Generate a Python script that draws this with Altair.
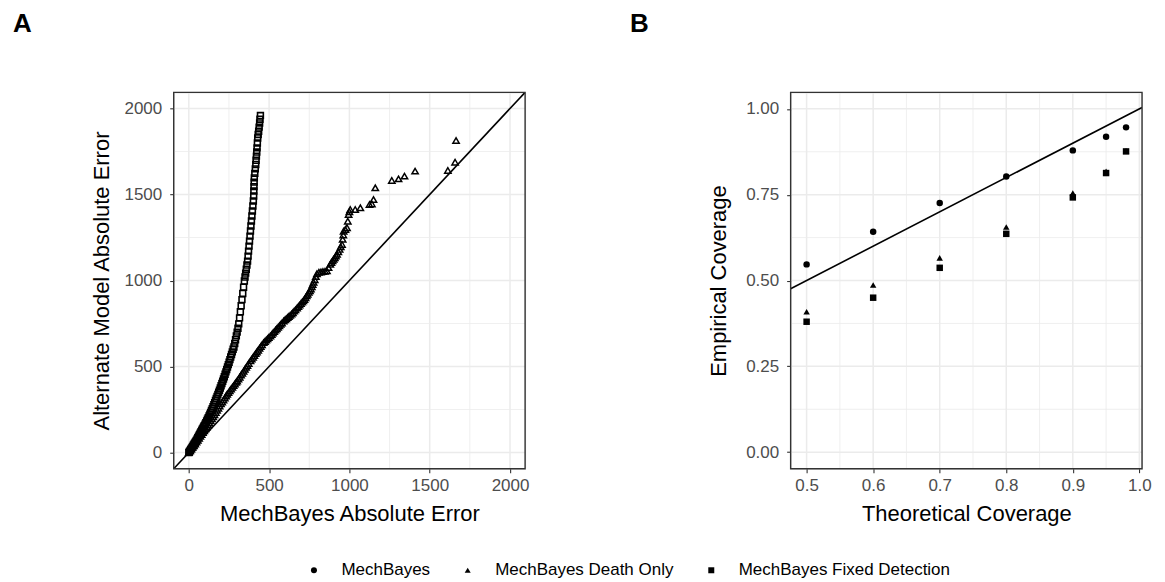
import altair as alt
import pandas as pd

FONT = "Liberation Sans"

# ---------------- Panel A: MechBayes vs alternate model absolute error (quantile pairs)
fixed_x = [0,4,8,12,16,20,24,28,32,36,40,44,48,52,56,60,64,68,72,76,80,84,88,92,96,
           101,106,111,116,121,126,131,136,141,146,151,156,161,166,171,176,181,186,191,196,
           201,206,211,216,221,226,231,236,241,246,251,256,261,266,271,276,281,286,291,296,
           301,306,311,316,321,326,331,336,341,346,350,354,358,362,366,369,372,375,378,381,
           384,387,390,393,396,399,402,404,405,406,407,408,411,414,417,419,421,423,425,427,
           429,432,435,438,441,443,446]
fixed_y = [0,6,12,18,24,30,36,42,48,54,60,66,72,79,86,93,100,107,114,121,128,135,142,149,156,
           165,174,184,193,203,213,223,233,244,255,266,278,290,302,314,326,338,350,362,375,
           388,401,414,427,441,455,469,483,497,511,525,540,555,570,585,600,614,634,656,678,
           700,723,748,783,818,853,889,925,961,997,1020,1043,1066,1090,1113,1142,1171,1200,1229,1258,
           1288,1317,1346,1375,1404,1433,1462,1491,1520,1546,1572,1597,1623,1649,1675,1699,1723,1747,1771,1800,
           1829,1849,1868,1892,1916,1938,1959]

death_x = [0,8,16,24,32,40,48,56,64,72,80,88,96,104,112,120,128,136,144,152,160,168,176,184,192,200,208,216,224,232,239,
           247,255,263,271,279,287,295,301,
           309,317,325,333,341,349,357,365,373,384,
           392,400,408,416,424,432,440,448,456,466,
           474,482,490,498,508,
           516,524,532,540,548,556,564,572,580,591,
           599,607,615,623,631,640,
           648,656,664,674,
           682,690,698,706,713,720,
           727,734,740,747,754,760,
           766,771,777,784,791,798,
           810,823,835,848,860,870,881,888,895,902,909,916,923,931,939,946,954,958,962,964,
           975,985,990,995,1000,1005,1036,1068,1125,1140,1150,1161,1264,1306,1343,1409,1613,1658,1664]
death_y = [0,10,20,30,40,50,61,72,83,94,105,116,127,138,149,160,172,184,196,208,220,233,245,258,270,283,294,306,317,329,339,
           349,359,369,379,389,399,409,416,
           427,438,450,461,472,484,495,506,518,533,
           543,554,564,575,585,595,606,616,626,639,
           646,654,661,669,678,
           686,695,703,712,720,728,737,745,753,765,
           772,778,785,791,798,805,
           813,822,830,840,
           849,857,866,875,882,890,
           900,911,920,931,941,950,
           963,977,990,1005,1023,1040,
           1048,1050,1052,1054,1056,1075,1094,1105,1115,1124,1133,1143,1152,1167,1181,1196,1210,1240,1265,1287,
           1297,1307,1345,1384,1400,1413,1413,1423,1442,1445,1471,1539,1582,1591,1607,1636,1640,1688,1814]

domA = [-94, 2094]
ticksA = [0, 500, 1000, 1500, 2000]
minorA = [250, 750, 1250, 1750]

# ---------------- Panel B: coverage
theoretical = [0.5, 0.6, 0.7, 0.8, 0.9, 0.95, 0.98]
emp_mechbayes = [0.547, 0.642, 0.726, 0.803, 0.879, 0.919, 0.946]
emp_death_only = [0.409, 0.487, 0.566, 0.656, 0.755, 0.818, 0.878]
emp_fixed_det = [0.380, 0.450, 0.537, 0.636, 0.742, 0.813, 0.876]
models = ["MechBayes", "MechBayes Death Only", "MechBayes Fixed Detection"]
shapes = ["circle", "triangle-up", "square"]

domBx = [0.476, 1.004]
ticksBx = [0.5, 0.6, 0.7, 0.8, 0.9, 1.0]
minorBx = [0.55, 0.65, 0.75, 0.85, 0.95]
domBy = [-0.048, 1.048]
ticksBy = [0.0, 0.25, 0.5, 0.75, 1.0]
minorBy = [0.125, 0.375, 0.625, 0.875]

W, H = 352, 377
GRID = "#EBEBEB"
BORDER = "#333333"


def xaxis(title, values, fmt):
    return alt.Axis(title=title, values=values, format=fmt, grid=False, domain=False,
                    tickSize=4, tickColor=BORDER, tickWidth=1.1, labelFlush=False,
                    labelColor="#4D4D4D", labelFontSize=17, labelFont=FONT, labelPadding=5,
                    titleFontSize=22, titleFont=FONT, titleFontWeight="normal", titleColor="black",
                    titleBaseline="alphabetic", titleY=52)


def yaxis(title, values, fmt):
    return alt.Axis(title=title, values=values, format=fmt, grid=False, domain=False,
                    tickSize=4, tickColor=BORDER, tickWidth=1.1, labelFlush=False,
                    labelColor="#4D4D4D", labelFontSize=17, labelFont=FONT, labelPadding=8,
                    titleFontSize=22, titleFont=FONT, titleFontWeight="normal", titleColor="black",
                    titleBaseline="middle", titleX=-72)


def panel_title(letter):
    return alt.TitleParams(letter, anchor="start", frame="group", dx=-161, offset=29,
                           fontSize=26, fontWeight="bold", font=FONT, color="black",
                           baseline="bottom")


def grid_layers(xs, ys, xmaj, xmin, ymaj, ymin):
    out = []
    for vals, w in ((xmin, 0.8), (xmaj, 1.5)):
        out.append(alt.Chart(pd.DataFrame({"gx": vals})).mark_rule(color=GRID, strokeWidth=w)
                   .encode(x=alt.X("gx:Q", scale=xs[0], axis=xs[1])))
    for vals, w in ((ymin, 0.8), (ymaj, 1.5)):
        out.append(alt.Chart(pd.DataFrame({"gy": vals})).mark_rule(color=GRID, strokeWidth=w)
                   .encode(y=alt.Y("gy:Q", scale=ys[0], axis=ys[1])))
    return out


def border_layer(xs, ys, xdom, ydom):
    df = pd.DataFrame({"bx0": [xdom[0]], "bx1": [xdom[1]], "by0": [ydom[0]], "by1": [ydom[1]]})
    return alt.Chart(df).mark_rect(filled=False, stroke=BORDER, strokeWidth=1.4).encode(
        x=alt.X("bx0:Q", scale=xs[0], axis=xs[1]), x2="bx1:Q",
        y=alt.Y("by0:Q", scale=ys[0], axis=ys[1]), y2="by1:Q")


# ---- Panel A
scA = alt.Scale(domain=domA, nice=False, zero=False)
axAx = xaxis("MechBayes Absolute Error", ticksA, "d")
axAy = yaxis("Alternate Model Absolute Error", ticksA, "d")

gA = grid_layers((scA, axAx), (scA, axAy), ticksA, minorA, ticksA, minorA)

sq = alt.Chart(pd.DataFrame({"mb": fixed_x, "alt": fixed_y})).mark_point(
    shape="square", filled=False, color="black", size=34, strokeWidth=1.6, opacity=1).encode(
    x=alt.X("mb:Q", scale=scA, axis=axAx), y=alt.Y("alt:Q", scale=scA, axis=axAy))
tri = alt.Chart(pd.DataFrame({"mb": death_x, "alt": death_y})).mark_point(
    shape="triangle-up", filled=False, color="black", size=40, strokeWidth=1.5, opacity=1).encode(
    x=alt.X("mb:Q", scale=scA, axis=axAx), y=alt.Y("alt:Q", scale=scA, axis=axAy))
lineA = alt.Chart(pd.DataFrame({"v": domA})).mark_line(color="black", strokeWidth=1.6, clip=True).encode(
    x=alt.X("v:Q", scale=scA, axis=axAx), y=alt.Y("v:Q", scale=scA, axis=axAy))
bA = border_layer((scA, axAx), (scA, axAy), domA, domA)

panelA = alt.layer(*gA, sq, tri, lineA, bA).properties(width=W, height=H, title=panel_title("A"))

# ---- Panel B
scBx = alt.Scale(domain=domBx, nice=False, zero=False)
scBy = alt.Scale(domain=domBy, nice=False, zero=False)
axBx = xaxis("Theoretical Coverage", ticksBx, ".1f")
axBy = yaxis("Empirical Coverage", ticksBy, ".2f")

gB = grid_layers((scBx, axBx), (scBy, axBy), ticksBx, minorBx, ticksBy, minorBy)

dfB = pd.DataFrame({
    "theo": theoretical * 3,
    "emp": emp_mechbayes + emp_death_only + emp_fixed_det,
    "model": [models[0]] * len(theoretical) + [models[1]] * len(theoretical) + [models[2]] * len(theoretical),
})
ptsB = alt.Chart(dfB).mark_point(filled=True, color="black", size=42, opacity=1).encode(
    x=alt.X("theo:Q", scale=scBx, axis=axBx),
    y=alt.Y("emp:Q", scale=scBy, axis=axBy),
    shape=alt.Shape("model:N", scale=alt.Scale(domain=models, range=shapes),
                    legend=alt.Legend(title=None, orient="none", legendX=132, legendY=470,
                                      direction="horizontal", labelFontSize=17, labelFont=FONT,
                                      labelColor="black", labelLimit=500, symbolSize=36,
                                      symbolFillColor="black", symbolStrokeColor="black",
                                      symbolStrokeWidth=0, labelOffset=19, columnPadding=29,
                                      padding=0)),
)
lineB = alt.Chart(pd.DataFrame({"v": domBx})).mark_line(color="black", strokeWidth=1.6, clip=True).encode(
    x=alt.X("v:Q", scale=scBx, axis=axBx), y=alt.Y("v:Q", scale=scBy, axis=axBy))
bB = border_layer((scBx, axBx), (scBy, axBy), domBx, domBy)

panelB = alt.layer(*gB, ptsB, lineB, bB).properties(width=W, height=H, title=panel_title("B"))

chart = alt.hconcat(panelA, panelB, spacing=99).properties(
    padding={"left": 4, "top": 1, "right": 5, "bottom": 0}
).configure_view(stroke=BORDER, strokeWidth=1.4).configure(font=FONT)

chart.save("out.html", embed_options={"renderer": "svg", "actions": False})
